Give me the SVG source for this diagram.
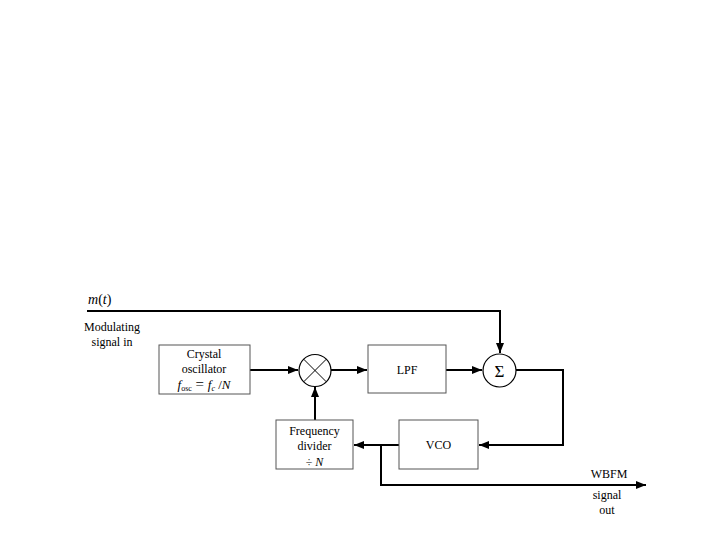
<svg xmlns="http://www.w3.org/2000/svg" width="720" height="540" viewBox="0 0 720 540">
<defs>
<marker id="ah" viewBox="0 0 10 8" refX="10" refY="4" markerWidth="10" markerHeight="8" markerUnits="userSpaceOnUse" orient="auto">
<path d="M0,0 L10,4 L0,8 z" fill="#000"/>
</marker>
<style>
.box{fill:#fff;stroke:#555;stroke-width:1}
.ln{fill:none;stroke:#000;stroke-width:2}
.t{font-family:"Liberation Serif","Times New Roman",serif;font-size:12px;fill:#000;text-anchor:middle}
.i{font-style:italic}
</style>
</defs>
<rect width="720" height="540" fill="#fff"/>
<g id="connectors">
<path class="ln" d="M87,311 H500 V353" marker-end="url(#ah)"/>
<path class="ln" d="M250,370 H298" marker-end="url(#ah)"/>
<path class="ln" d="M331,370 H367" marker-end="url(#ah)"/>
<path class="ln" d="M446,370 H482" marker-end="url(#ah)"/>
<path class="ln" d="M516,370 H563 V445 H479" marker-end="url(#ah)"/>
<path class="ln" d="M399,445 H354" marker-end="url(#ah)"/>
<path class="ln" d="M315,420 V387" marker-end="url(#ah)"/>
<path class="ln" d="M381,445 V485 H646" marker-end="url(#ah)"/>
</g>
<g id="input-label">
<text class="t" x="88" y="304" style="font-size:14px;text-anchor:start"><tspan font-style="italic">m</tspan>(<tspan font-style="italic">t</tspan>)</text>
<text class="t" x="112" y="331">Modulating</text>
<text class="t" x="112" y="346">signal in</text>
</g>
<g id="crystal">
<rect class="box" x="159" y="345" width="91" height="49"/>
<text class="t" x="204" y="358">Crystal</text>
<text class="t" x="204" y="373">oscillator</text>
<text class="t" x="204" y="389" style="font-size:13px"><tspan font-style="italic">f</tspan><tspan style="font-size:8px" dy="2">osc</tspan><tspan dy="-2" style="font-size:15px"> = </tspan><tspan font-style="italic">f</tspan><tspan style="font-size:8px;font-style:italic" dy="2">c</tspan><tspan dy="-2"> /</tspan><tspan font-style="italic">N</tspan></text>
</g>
<g id="mixer">
<circle cx="315" cy="370.5" r="16" fill="#fff" stroke="#000" stroke-width="1.2"/>
<path d="M303.7,359.2 L326.3,381.8 M326.3,359.2 L303.7,381.8" stroke="#000" stroke-width="1"/>
</g>
<g id="lpf">
<rect class="box" x="368" y="345" width="78" height="48"/>
<text class="t" x="407" y="374">LPF</text>
</g>
<g id="sum">
<circle cx="499.5" cy="370.5" r="16.5" fill="#fff" stroke="#000" stroke-width="1.2"/>
<text class="t" x="499.5" y="377" style="font-size:17px">Σ</text>
</g>
<g id="divider">
<rect class="box" x="276" y="420" width="77" height="49"/>
<text class="t" x="314.5" y="435">Frequency</text>
<text class="t" x="314.5" y="450">divider</text>
<text class="t" x="314.5" y="466">÷ <tspan font-style="italic">N</tspan></text>
</g>
<g id="vco">
<rect class="box" x="399" y="420" width="79" height="49"/>
<text class="t" x="438.5" y="449">VCO</text>
</g>
<g id="output-label">
<text class="t" x="609" y="478">WBFM</text>
<text class="t" x="607" y="499">signal</text>
<text class="t" x="607" y="514">out</text>
</g>
</svg>
